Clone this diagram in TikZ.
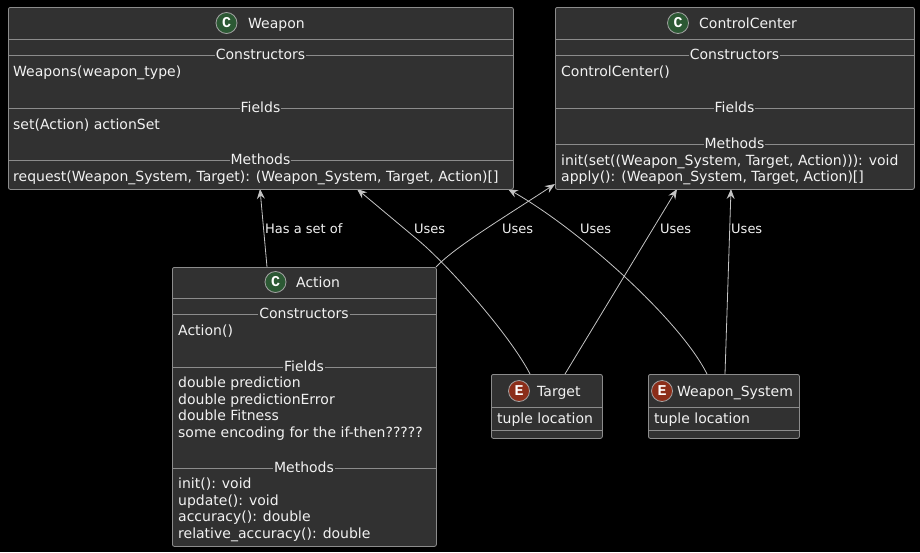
\documentclass[tikz,border=0pt]{standalone}
\usepackage{fontspec}
\setmainfont{DejaVu Sans}
\newfontfamily\markfont{Liberation Mono}
\usetikzlibrary{arrows.meta}

\definecolor{boxfill}{HTML}{313131}
\definecolor{boxline}{HTML}{8C8C8C}
\definecolor{inkwhite}{HTML}{F2F2F2}
\definecolor{classgreen}{HTML}{2C5934}
\definecolor{enumred}{HTML}{8C2E1A}
\definecolor{linkgray}{HTML}{C4C4C4}

\tikzset{
  classbox/.style={draw=boxline, fill=boxfill, rounded corners=2pt, inner sep=0pt, line width=0.8pt, anchor=north west},
  sep/.style={draw=boxline, line width=0.7pt},
  seclabel/.style={anchor=base, fill=boxfill, inner xsep=1pt, inner ysep=1pt, text=inkwhite, font=\fontsize{14}{16}\selectfont},
  entry/.style={anchor=base west, inner sep=0pt, text=inkwhite, font=\fontsize{14}{16}\selectfont},
  badge/.style={circle, draw=boxline!80!white, line width=0.8pt, minimum size=21pt, inner sep=0pt, text=white, font=\markfont\bfseries\fontsize{15}{15}\selectfont},
  link/.style={draw=linkgray, line width=0.8pt},
  linklabel/.style={anchor=base west, inner sep=0pt, text=inkwhite, font=\fontsize{13}{15}\selectfont}
}

\begin{document}
\begin{tikzpicture}[x=1pt,y=-1pt,>={Stealth[length=10pt,width=8pt,inset=3.5pt]}]
  \useasboundingbox (0,0) rectangle (920,552);
  \fill[black] (0,0) rectangle (920,552);

  % link end points
  \coordinate (wpA) at (260,189);
  \coordinate (wpT) at (357,189);
  \coordinate (wpS) at (508,189);
  \coordinate (ccA) at (555,184);
  \coordinate (ccT) at (677,189);
  \coordinate (ccS) at (731,189);
  \coordinate (acW) at (267,267);
  \coordinate (acC) at (436,267);
  \coordinate (tgW) at (530,374);
  \coordinate (tgC) at (565,374);
  \coordinate (wsW) at (707,374);
  \coordinate (wsC) at (725,374);

  % links
  \draw[link, ->] (acW) -- (wpA);
  \draw[link, ->] (tgW) .. controls (510,335) and (448,265) .. (418,240) -- (wpT);
  \draw[link, ->] (acC) .. controls (455,247) and (500,220) .. (ccA);
  \draw[link, ->] (wsW) .. controls (680,320) and (580,230) .. (wpS);
  \draw[link, ->] (tgC) -- (ccT);
  \draw[link, ->] (wsC) -- (ccS);

  \node[linklabel] (lbl1) at (265,233) {Has a set of};
  \node[linklabel] (lbl2) at (414,233) {Uses};
  \node[linklabel] (lbl3) at (502,233) {Uses};
  \node[linklabel] (lbl4) at (580,233) {Uses};
  \node[linklabel] (lbl5) at (660,233) {Uses};
  \node[linklabel] (lbl6) at (731,233) {Uses};

  % Weapon
  \node[classbox, minimum width=505pt, minimum height=182pt] (weapon) at (8,7) {};
  \node[badge, fill=classgreen] (weaponC) at (226.5,23) {C};
  \node[entry] (weaponT) at (248,28) {Weapon};
  \draw[sep] (8,39) -- (513,39);
  \draw[sep] (8,55) -- (513,55);
  \node[seclabel] at (260.5,59) {Constructors};
  \node[entry] at (13,76) {Weapons(weapon\_type)};
  \draw[sep] (8,108) -- (513,108);
  \node[seclabel] at (260.5,112) {Fields};
  \node[entry] at (13,129) {set(Action) actionSet};
  \draw[sep] (8,160) -- (513,160);
  \node[seclabel] at (260.5,164) {Methods};
  \node[entry] at (13,181) {request(Weapon\_System, Target): (Weapon\_System, Target, Action)[]};

  % ControlCenter
  \node[classbox, minimum width=359pt, minimum height=182pt] (control) at (555,7) {};
  \node[badge, fill=classgreen] (controlC) at (678,23) {C};
  \node[entry] (controlT) at (699,28) {ControlCenter};
  \draw[sep] (555,39) -- (914,39);
  \draw[sep] (555,55) -- (914,55);
  \node[seclabel] at (734.5,59) {Constructors};
  \node[entry] at (561,76) {ControlCenter()};
  \draw[sep] (555,108) -- (914,108);
  \node[seclabel] at (734.5,112) {Fields};
  \draw[sep] (555,144) -- (914,144);
  \node[seclabel] at (734.5,148) {Methods};
  \node[entry] at (561,165) {init(set((Weapon\_System, Target, Action))): void};
  \node[entry] at (561,181) {apply(): (Weapon\_System, Target, Action)[]};

  % Action
  \node[classbox, minimum width=264pt, minimum height=279pt] (action) at (172,267) {};
  \node[badge, fill=classgreen] (actionC) at (275.5,282) {C};
  \node[entry] (actionT) at (296,287) {Action};
  \draw[sep] (172,298) -- (436,298);
  \draw[sep] (172,314) -- (436,314);
  \node[seclabel] at (304,318) {Constructors};
  \node[entry] at (178,335) {Action()};
  \draw[sep] (172,367) -- (436,367);
  \node[seclabel] at (304,371) {Fields};
  \foreach \txt [count=\i] in {double prediction, double predictionError, double Fitness, some encoding for the if-then?????}
    \node[entry] at (178,371+16.5*\i) {\txt};
  \draw[sep] (172,468) -- (436,468);
  \node[seclabel] at (304,472) {Methods};
  \foreach \txt [count=\i] in {init(): void, update(): void, accuracy(): double, relative\_accuracy(): double}
    \node[entry] at (178,472+16.5*\i) {\txt};

  % Target
  \node[classbox, minimum width=111pt, minimum height=64pt] (target) at (491,374) {};
  \node[badge, fill=enumred] (targetE) at (519,391) {E};
  \node[entry] (targetT) at (537,396) {Target};
  \draw[sep] (491,407) -- (602,407);
  \node[entry] at (497,423) {tuple location};
  \draw[sep] (491,430) -- (602,430);

  % Weapon_System
  \node[classbox, minimum width=151pt, minimum height=64pt] (wsys) at (648,374) {};
  \node[badge, fill=enumred] (wsysE) at (662,391) {E};
  \node[entry] (wsysT) at (677,396) {Weapon\_System};
  \draw[sep] (648,407) -- (799,407);
  \node[entry] at (654,423) {tuple location};
  \draw[sep] (648,430) -- (799,430);
\end{tikzpicture}
\end{document}
